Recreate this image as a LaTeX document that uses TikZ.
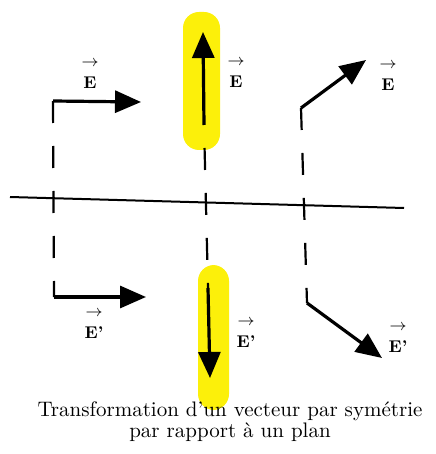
\documentclass[tikz,border=0pt]{standalone}
\usepackage{tikz}
\usetikzlibrary{arrows.meta}
\definecolor{hlyellow}{RGB}{252,240,10}
\tikzset{
 sym vector/.style={line width=1.6pt,-{Triangle[length=13pt,width=11pt]}},
 sym dashed/.style={line width=1.1pt,dash pattern=on 11pt off 11.5pt},
 sym plane/.style={line width=1pt},
 sym label/.style={font=\fontsize{8.5}{11}\selectfont\bfseries,
                   align=center,inner sep=0pt},
 sym highlight/.style={fill=hlyellow,rounded corners=8pt},
 sym caption/.style={font=\fontsize{10.5}{10.5}\selectfont,align=center,
                     inner sep=0pt}
}

\begin{document}
\begin{tikzpicture}[x=0.5pt,y=-0.5pt]
 \useasboundingbox (0,0) rectangle (435,454);
 % highlighted vectors
 \fill[sym highlight] (183,12) rectangle (220,150);
 \fill[sym highlight] (198,265) rectangle (229,410);

 % plane
 \coordinate (p1) at (10,197);
 \coordinate (p2) at (404,208);
 \draw[sym plane] (p1)--(p2);

 % left: parallel to the plane
 \coordinate (l1) at (53,101);
 \coordinate (l2) at (54,297);
 \coordinate (l1tip) at (141,102);
 \coordinate (l2tip) at (146,297);
 % middle: normal to the plane
 \coordinate (m1) at (204,125);
 \coordinate (m2) at (208,288);
 \coordinate (m1tip) at (203,32);
 \coordinate (m2tip) at (210,378);
 % right: oblique
 \coordinate (r1) at (301,108);
 \coordinate (r2) at (307,303);
 \coordinate (r1tip) at (366,60);
 \coordinate (r2tip) at (382,358);

 \draw[sym dashed] (l1)--(l2);
 \draw[sym dashed,dash phase=11pt] (m1)--(m2);
 \draw[sym dashed] (r1)--(r2);

 \draw[sym vector] (l1)--(l1tip);
 \draw[sym vector] (l2)--(l2tip);
 \draw[sym vector] (m1)--(m1tip);
 \draw[sym vector] (m2)--(m2tip);
 \draw[sym vector] (r1)--(r1tip);
 \draw[sym vector] (r2)--(r2tip);

 \node[sym label] (lE) at (90,74) {$\rightarrow$\\E};
 \node[sym label] (lEp) at (94,324) {$\rightarrow$\\E'};
 \node[sym label] (mE) at (236,73) {$\rightarrow$\\E};
 \node[sym label] (mEp) at (246,333) {$\rightarrow$\\E'};
 \node[sym label] (rE) at (388,76) {$\rightarrow$\\E};
 \node[sym label] (rEp) at (398,338) {$\rightarrow$\\E'};

 \node[sym caption,anchor=north] (caption) at (230,401)
   {Transformation d'un vecteur par symétrie\\par rapport à un plan};
\end{tikzpicture}
\end{document}
